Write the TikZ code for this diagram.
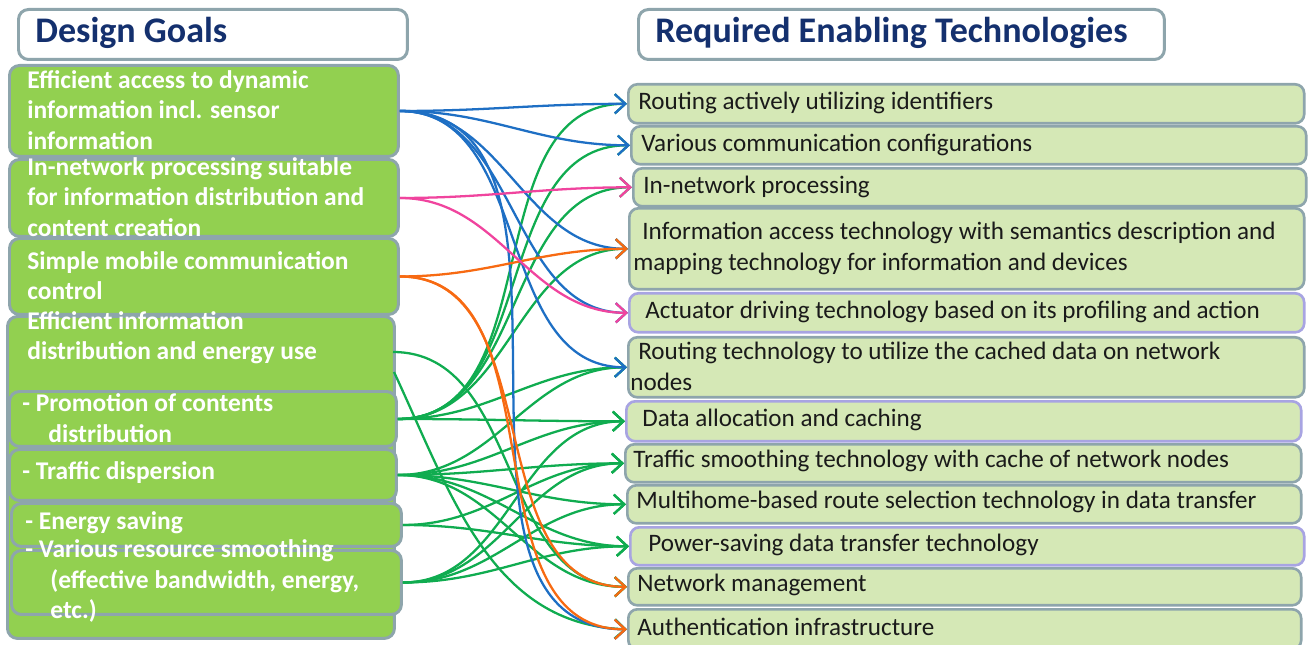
\documentclass[tikz,border=0pt]{standalone}
\usepackage{fontspec}
\setmainfont{Carlito}
\usepackage{tikz}
\usetikzlibrary{arrows.meta}

\definecolor{goalgreen}{HTML}{92D050}
\definecolor{techgreen}{HTML}{D5E8B6}
\definecolor{edgegray}{HTML}{8EA5AC}
\definecolor{lavender}{HTML}{A8A4E2}
\definecolor{navy}{HTML}{14306E}
\definecolor{techink}{HTML}{1A1A1A}
\definecolor{linkblue}{HTML}{1E6FC4}
\definecolor{linkpink}{HTML}{F0449E}
\definecolor{linkorange}{HTML}{F76A12}
\definecolor{linkgreen}{HTML}{10AC50}

\begin{document}
\begin{tikzpicture}[x=0.02cm, y=-0.02cm,
    head/.style={draw=edgegray, fill=white, line width=1.7pt, rounded corners=0.2cm, anchor=north west, inner sep=0pt},
    headtext/.style={anchor=west, inner sep=0pt, text=navy, font=\bfseries\fontsize{20.5}{24}\selectfont},
    goal/.style={draw=edgegray, fill=goalgreen, line width=1.7pt, rounded corners=0.2cm, anchor=north west, inner sep=0pt},
    goaltext/.style={anchor=west, inner sep=0pt, align=left, text=white, font=\bfseries\fontsize{14.5}{17.3}\selectfont},
    tech/.style={draw=edgegray, fill=techgreen, line width=1.5pt, rounded corners=0.18cm, anchor=north west, inner sep=0pt},
    techtext/.style={anchor=west, inner sep=0pt, align=left, text=techink, font=\fontsize{14.3}{17.6}\selectfont},
    link/.style={line width=1.3pt, -{Straight Barb[length=6pt,width=11pt]}}]
        \useasboundingbox (0,0) rectangle (1309,645);

        % Headers
        \node[head, minimum width=7.78cm, minimum height=1cm] (HL) at (17,8) {};
        \node[headtext] (HLt) at (35,33) {Design Goals};
        \node[head, minimum width=10.52cm, minimum height=1cm] (HR) at (637,8) {};
        \node[headtext] (HRt) at (655,33) {Required Enabling Technologies};

        % Design goals (left column)
        \node[goal, minimum width=7.78cm, minimum height=1.82cm] (L1) at (8,64) {};
        \node[goaltext] (L1t) at (27,110) {Efficient access to dynamic\\information incl. sensor\\information};
        \node[goal, minimum width=7.78cm, minimum height=1.54cm] (L2) at (8,158) {};
        \node[goaltext] (L2t) at (27,197) {In-network processing suitable\\for information distribution and\\content creation};
        \node[goal, minimum width=7.78cm, minimum height=1.52cm] (L3) at (8,237) {};
        \node[goaltext] (L3t) at (27,275.5) {Simple mobile communication\\control};
        \node[goal, minimum width=7.74cm, minimum height=6.44cm] (L4) at (6,315) {};
        \node[goaltext] (L4t) at (27,338) {Efficient information\\distribution and energy use};
        \node[goal, minimum width=7.74cm, minimum height=1.10cm] (L5) at (8,390) {};
        \node[goaltext] (L5t) at (22,418) {- Promotion of contents\\\hspace*{0.52cm}distribution};
        \node[goal, minimum width=7.74cm, minimum height=1.02cm] (L6) at (8,448) {};
        \node[goaltext] (L6t) at (22,473) {- Traffic dispersion};
        \node[goal, minimum width=7.80cm, minimum height=0.86cm] (L7) at (10,502) {};
        \node[goaltext] (L7t) at (25,523) {- Energy saving};
        \node[goal, minimum width=7.80cm, minimum height=1.28cm] (L8) at (10,549) {};
        \node[goaltext] (L8t) at (25,581) {- Various resource smoothing\\\hspace*{0.5cm}(effective bandwidth, energy,\\\hspace*{0.5cm}etc.)};

        % Enabling technologies (right column)
        \node[tech, minimum width=13.52cm, minimum height=0.78cm] (R1) at (627,83) {};
        \node[techtext] (R1t) at (638,103) {Routing actively utilizing identifiers};
        \node[tech, minimum width=13.5cm, minimum height=0.76cm] (R2) at (630,125) {};
        \node[techtext] (R2t) at (641,145) {Various communication configurations};
        \node[tech, minimum width=13.46cm, minimum height=0.76cm] (R3) at (632,167) {};
        \node[techtext] (R3t) at (643,187) {In-network processing};
        \node[tech, minimum width=13.5cm, minimum height=1.62cm] (R4) at (628,207) {};
        \node[techtext] (R4t) at (633,248) {\hspace*{0.18cm}Information access technology with semantics description and\\mapping technology for information and devices};
        \node[tech, draw=lavender, minimum width=13.5cm, minimum height=0.78cm] (R5) at (628,292) {};
        \node[techtext] (R5t) at (645,312) {Actuator driving technology based on its profiling and action};
        \node[tech, minimum width=13.52cm, minimum height=1.2cm] (R6) at (627,336) {};
        \node[techtext] (R6t) at (630,366) {\hspace*{0.16cm}Routing technology to utilize the cached data on network\\nodes};
        \node[tech, draw=lavender, minimum width=13.5cm, minimum height=0.8cm] (R7) at (625,400) {};
        \node[techtext] (R7t) at (642,420) {Data allocation and caching};
        \node[tech, minimum width=13.52cm, minimum height=0.76cm] (R8) at (624,443) {};
        \node[techtext] (R8t) at (633,461) {Traffic smoothing technology with cache of network nodes};
        \node[tech, minimum width=13.48cm, minimum height=0.76cm] (R9) at (626,484) {};
        \node[techtext] (R9t) at (636,502) {Multihome-based route selection technology in data transfer};
        \node[tech, draw=lavender, minimum width=13.48cm, minimum height=0.76cm] (R10) at (629,526) {};
        \node[techtext] (R10t) at (648,545) {Power-saving data transfer technology};
        \node[tech, minimum width=13.46cm, minimum height=0.74cm] (R11) at (627,567) {};
        \node[techtext] (R11t) at (637,585) {Network management};
        \node[tech, minimum width=13.46cm, minimum height=0.8cm] (R12) at (627,608) {};
        \node[techtext] (R12t) at (637,627) {Authentication infrastructure};

        % Start points on the big box
        \coordinate (L4a) at (393,352);
        \coordinate (L4b) at (394,372);

        % Green links
        \draw[link, linkgreen] (L4a) to[out=0,in=180] (R11.west);
        \draw[link, linkgreen] (L4b) to[out=-65,in=178] (R12.west);
        \draw[link, linkgreen] (L5.east) to[out=0,in=180] (R1.west);
        \draw[link, linkgreen] (L5.east) to[out=0,in=180] (R2.west);
        \draw[link, linkgreen] (L5.east) to[out=0,in=180] (R3.west);
        \draw[link, linkgreen] (L5.east) to[out=0,in=180] (R4.west);
        \draw[link, linkgreen] (L5.east) to[out=0,in=180] (R6.west);
        \draw[link, linkgreen] (L5.east) to[out=0,in=180] (R7.west);
        \draw[link, linkgreen] (L6.east) to[out=0,in=180] (R6.west);
        \draw[link, linkgreen] (L6.east) to[out=0,in=180] (R7.west);
        \draw[link, linkgreen] (L6.east) to[out=0,in=180] (R8.west);
        \draw[link, linkgreen] (L6.east) to[out=0,in=180] (R9.west);
        \draw[link, linkgreen] (L6.east) to[out=0,in=180] (R10.west);
        \draw[link, linkgreen] (L6.east) to[out=0,in=180] (R11.west);
        \draw[link, linkgreen] (L7.east) to[out=0,in=180] (R8.west);
        \draw[link, linkgreen] (L7.east) to[out=0,in=180] (R10.west);
        \draw[link, linkgreen] (L8.east) to[out=0,in=180] (R7.west);
        \draw[link, linkgreen] (L8.east) to[out=0,in=180] (R8.west);
        \draw[link, linkgreen] (L8.east) to[out=0,in=180] (R9.west);
        \draw[link, linkgreen] (L8.east) to[out=0,in=180] (R10.west);

        % Blue links
        \draw[link, linkblue] (L1.east) to[out=0,in=180] (R1.west);
        \draw[link, linkblue] (L1.east) to[out=0,in=180] (R2.west);
        \draw[link, linkblue] (L1.east) to[out=0,in=180] (R4.west);
        \draw[link, linkblue] (L1.east) to[out=0,in=180] (R5.west);
        \draw[link, linkblue] (L1.east) to[out=0,in=180] (R6.west);
        \draw[link, linkblue] (L1.east) to[out=0,in=180] (R12.west);

        % Orange links
        \draw[link, linkorange] (L3.east) to[out=0,in=180] (R4.west);
        \draw[link, linkorange] (L3.east) to[out=0,in=180] (R11.west);
        \draw[link, linkorange] (L3.east) to[out=0,in=180] (R12.west);

        % Pink links
        \draw[link, linkpink] (L2.east) to[out=0,in=180] (R3.west);
        \draw[link, linkpink] (L2.east) to[out=0,in=180] (R5.west);
\end{tikzpicture}
\end{document}
